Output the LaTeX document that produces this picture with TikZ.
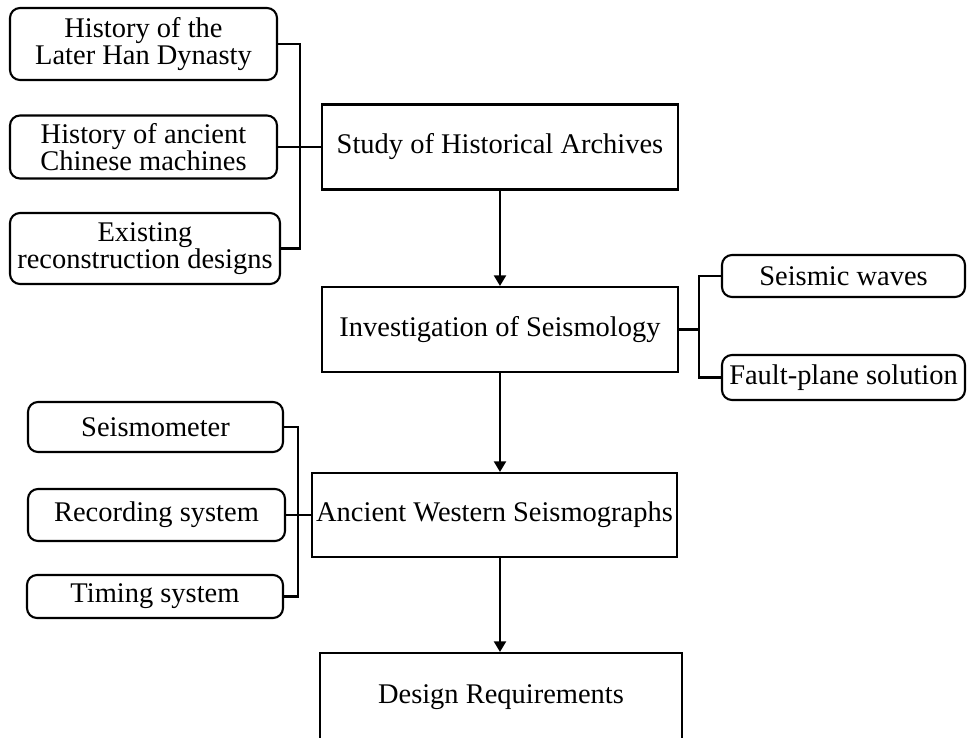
\documentclass[tikz,border=0pt]{standalone}
\usepackage{fontspec}
\setmainfont{Liberation Serif}
\usetikzlibrary{arrows.meta}

\begin{document}
\begin{tikzpicture}[line width=1.2pt,
    every node/.style={font=\fontsize{16.2}{15.4}\selectfont},
    mainbox/.style={draw, minimum width=7.12cm, minimum height=1.7cm, inner sep=0pt},
    subbox/.style={draw, rounded corners=0.2cm, align=center, inner sep=0pt},
    flow/.style={-{Triangle[width=6.8pt,length=6pt]}}]
        \useasboundingbox (0,0) rectangle (19.34,-14.74);

        % main steps
        \node[mainbox] (study) at (10.0, -2.94) {Study of Historical Archives};
        \node[mainbox] (seismo) at (10.0, -6.59) {Investigation of Seismology};
        \node[mainbox, minimum width=7.3cm, minimum height=1.68cm] (western) at (9.89, -10.3) {Ancient Western Seismographs};
        \node[mainbox, minimum width=7.24cm, minimum height=1.76cm] (design) at (10.02, -13.94) {Design Requirements};

        % sources of the archives
        \node[subbox, minimum width=5.34cm, minimum height=1.44cm] (hanhist) at (2.87, -0.88) {History of the\\Later Han Dynasty};
        \node[subbox, minimum width=5.34cm, minimum height=1.26cm] (machines) at (2.87, -2.94) {History of ancient\\Chinese machines};
        \node[subbox, minimum width=5.4cm, minimum height=1.42cm] (recon) at (2.9, -4.97) {Existing\\reconstruction designs};

        % seismology topics
        \node[subbox, minimum width=4.86cm, minimum height=0.84cm] (waves) at (16.87, -5.52) {Seismic waves};
        \node[subbox, minimum width=4.86cm, minimum height=0.9cm] (fault) at (16.87, -7.55) {Fault-plane solution};

        % parts of the seismographs
        \node[subbox, minimum width=5.1cm, minimum height=1.0cm] (meter) at (3.11, -8.54) {Seismometer};
        \node[subbox, minimum width=5.14cm, minimum height=1.04cm] (record) at (3.13, -10.3) {Recording system};
        \node[subbox, minimum width=5.12cm, minimum height=0.86cm] (timing) at (3.1, -11.93) {Timing system};

        % brackets
        \coordinate (jleft) at (6.0, -2.94);
        \coordinate (jright) at (13.98, -6.59);
        \coordinate (jlow) at (5.96, -10.3);

        \draw (hanhist.east) -| (jleft) |- (recon.east);
        \draw (machines.east) -- (machines.east -| study.west);

        \draw (seismo.east) -- (jright);
        \draw (waves.west) -| (jright) |- (fault.west);

        \draw (meter.east) -| (jlow) |- (timing.east);
        \draw (record.east) -- (record.east -| western.west);

        % flow
        \draw[flow] (study) -- (seismo);
        \draw[flow] (seismo.south) -- (seismo.south |- western.north);
        \draw[flow] (western.south -| seismo.south) -- (design.north -| seismo.south);
\end{tikzpicture}
\end{document}
